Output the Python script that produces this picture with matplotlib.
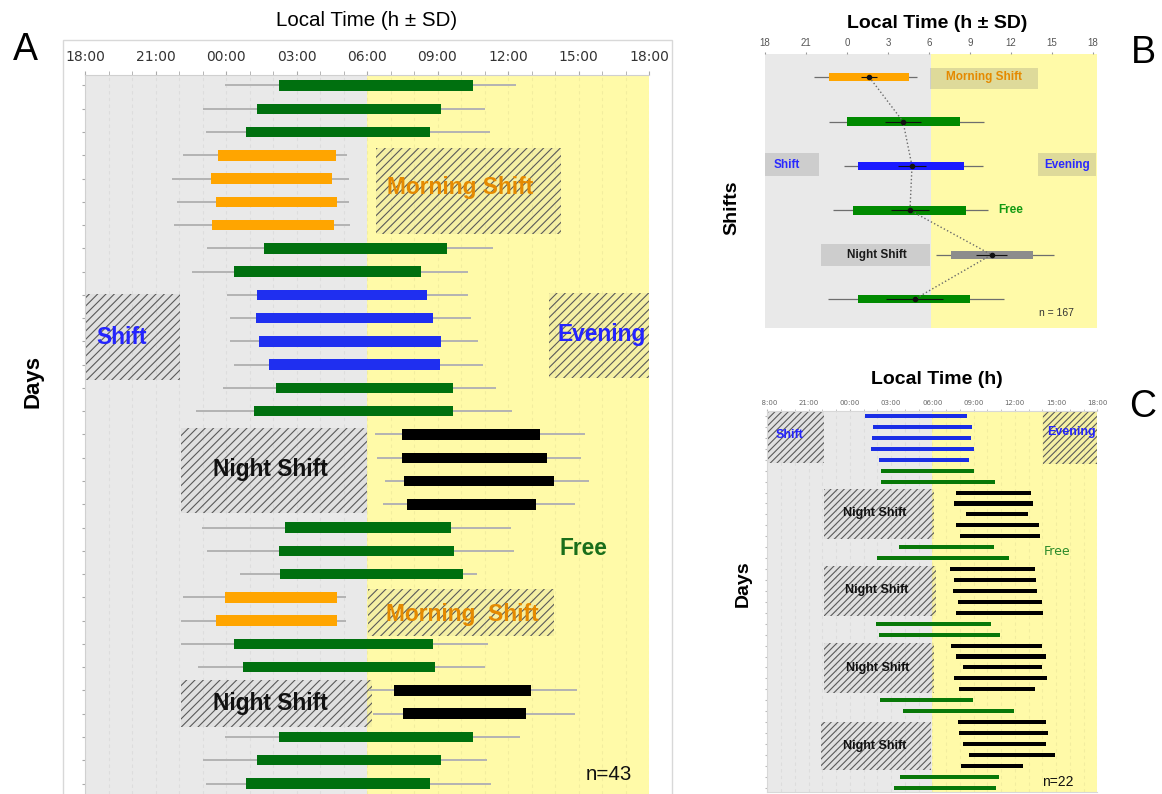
import numpy as np
import matplotlib
matplotlib.use("Agg")
import matplotlib.pyplot as plt
from matplotlib.patches import Rectangle
from matplotlib import font_manager
from matplotlib.transforms import Bbox, TransformedBbox

# ---------------- Panel A: single days (clock time of onset / offset, SD in h)
A_group = list("FFFMMMMFFEEEEFFNNNNFFFMMFFNNFFF")
A_onset = [2.27, 1.34, 0.86, 23.68, 23.37, 23.57, 23.41, 1.61, 0.34, 1.33, 1.29,
           1.40, 1.85, 2.11, 1.18, 7.47, 7.49, 7.58, 7.72, 2.49, 2.27, 2.31,
           23.95, 23.57, 0.34, 0.72, 7.13, 7.52, 2.27, 1.34, 0.86]
A_offset = [10.50, 9.13, 8.70, 4.66, 4.53, 4.73, 4.60, 9.39, 8.31, 8.56, 8.81,
            9.17, 9.10, 9.65, 9.65, 13.36, 13.65, 13.94, 13.20, 9.58, 9.71, 10.07,
            4.71, 4.71, 8.81, 8.90, 12.99, 12.77, 10.50, 9.13, 8.70]
A_onset_sd = [2.32, 2.34, 1.72, 1.52, 1.66, 1.65, 1.63, 2.40, 1.77, 1.29, 1.11,
              1.22, 1.49, 2.22, 2.47, 1.13, 1.08, 0.81, 1.02, 3.53, 3.08, 1.70,
              1.79, 1.47, 2.24, 1.90, 1.04, 1.27, 2.32, 2.34, 1.72]
A_offset_sd = [1.86, 1.88, 2.55, 0.50, 0.70, 0.50, 0.68, 1.97, 1.99, 1.74, 1.61,
               1.56, 1.83, 1.85, 2.53, 1.90, 1.47, 1.50, 1.63, 2.53, 2.54, 0.62,
               0.38, 0.38, 2.33, 2.10, 1.95, 2.10, 2.00, 1.97, 2.58]

# ---------------- Panel B: means per shift type
B_group = ["M", "F", "E", "F", "N", "F"]
B_onset = [22.67, 23.99, 0.82, 0.41, 7.62, 0.82]
B_offset = [4.56, 8.25, 8.55, 8.69, 13.61, 9.01]
B_onset_sd = [1.08, 1.32, 1.07, 1.45, 1.13, 2.20]
B_offset_sd = [0.54, 1.81, 1.39, 1.64, 1.56, 2.45]
B_mid = [1.63, 4.10, 4.76, 4.61, 10.58, 4.95]
B_mid_sd = [0.60, 1.35, 1.03, 1.39, 1.14, 2.08]

# ---------------- Panel C: single days of a night-shift worker
C_group = list("EEEEEFFNNNNNFFNNNNNFFNNNNNFFNNNNNFF")
C_onset = [1.07, 1.70, 1.58, 1.51, 2.12, 2.24, 2.26, 7.69, 7.55, 8.42, 7.74, 8.01,
           3.57, 1.97, 7.28, 7.59, 7.52, 7.84, 7.74, 1.92, 2.14, 7.33, 7.69, 8.20,
           7.59, 7.96, 2.21, 3.86, 7.89, 7.94, 8.25, 8.64, 8.10, 3.64, 3.21]
C_offset = [8.49, 8.90, 8.78, 9.03, 8.69, 9.03, 10.55, 13.15, 13.34, 12.98, 13.75,
            13.85, 10.48, 11.55, 13.44, 13.54, 13.59, 13.97, 14.07, 10.29, 10.92,
            13.95, 14.24, 13.97, 14.34, 13.49, 8.98, 11.91, 14.24, 14.43, 14.27,
            14.89, 12.59, 10.82, 10.65]

tick_hours = [18, 21, 24, 27, 30, 33, 36, 39, 42]
tick_labels_hm = ["18:00", "21:00", "00:00", "03:00", "06:00", "09:00",
                  "12:00", "15:00", "18:00"]
tick_labels_h = ["18", "21", "0", "3", "6", "9", "12", "15", "18"]

GRAY = "#e9e9e9"
YELLOW = "#fffaa8"
COL_A = {"F": "#00700f", "M": "#ffa500", "E": "#1f2ff0", "N": "#000000"}
COL_B = {"F": "#008a00", "M": "#ffa500", "E": "#1a1aff", "N": "#8c8c8c"}
COL_C = {"F": "#087808", "E": "#1a2ee6", "N": "#000000"}

names = {f.name for f in font_manager.fontManager.ttflist}
if "Liberation Sans Narrow" in names:
    NARROW, NS = "Liberation Sans Narrow", 1.0
else:
    NARROW, NS = "Liberation Sans", 0.82
SANS = "Liberation Sans"
plt.rcParams["font.family"] = [SANS, "DejaVu Sans"]
plt.rcParams["hatch.linewidth"] = 0.8


def unwrap(t):
    t = np.asarray(t, dtype=float)
    return np.where(t < 18, t + 24, t)


W, H = 1162, 794
fig = plt.figure(figsize=(W / 100, H / 100), dpi=100)


def fx(px):
    return px / W


def fy(py):
    return 1 - py / H


def background(ax, x0, split, x1):
    ax.axvspan(x0, split, color=GRAY, lw=0, zorder=0)
    ax.axvspan(split, x1, color=YELLOW, lw=0, zorder=0)
    for h in range(18, 43):
        ax.axvline(h, color="k", alpha=0.05, lw=0.8, ls=(0, (3, 3)), zorder=0.5)


def hatch_box(ax, x0, x1, y0, y1, pattern="////", face=(0.5, 0.5, 0.5, 0.08)):
    ax.add_patch(Rectangle((x0, y0), x1 - x0, y1 - y0, facecolor=face,
                           edgecolor="#5a5a5a", hatch=pattern, lw=0, zorder=1))


# ======================= Panel A
axA = fig.add_axes([fx(85), 0, fx(649) - fx(85), fy(75)])
background(axA, 18, 30, 42)
nA = len(A_group)
yA = np.arange(nA)
onA, offA = unwrap(A_onset), unwrap(A_offset)
axA.hlines(yA, onA - np.array(A_onset_sd), offA + np.array(A_offset_sd),
           color="#b3b3b3", lw=1.4, zorder=2)
axA.barh(yA, offA - onA, left=onA, height=0.45,
         color=[COL_A[g] for g in A_group], zorder=3)

hatch_box(axA, 30.38, 38.26, 2.7, 6.4)
hatch_box(axA, 18.0, 22.04, 8.95, 12.65)
hatch_box(axA, 37.74, 42.0, 8.92, 12.57)
hatch_box(axA, 22.07, 30.0, 14.72, 18.37)
hatch_box(axA, 30.04, 37.94, 21.64, 23.66)
hatch_box(axA, 22.07, 30.2, 25.55, 27.57)

ann = dict(family=NARROW, weight="bold", size=20 * NS, ha="center", va="center", zorder=4)
axA.text(33.96, 4.4, "Morning Shift", color="#e58a00", **ann)
axA.text(19.56, 10.85, "Shift", color="#2424ff", **ann)
axA.text(39.98, 10.72, "Evening", color="#2424ff", **ann)
axA.text(25.88, 16.52, "Night Shift", color="#111111", **ann)
axA.text(39.2, 19.88, "Free", color="#1a6e1a", **ann)
axA.text(34.07, 22.75, "Morning  Shift", color="#e58a00", **ann)
axA.text(25.88, 26.54, "Night Shift", color="#111111", **ann)
axA.text(40.3, 29.63, "n=43", family=NARROW, size=18 * NS, ha="center",
         va="center", color="#111111", zorder=4)

axA.set_xlim(18, 42)
axA.set_ylim(nA - 0.55, -0.45)
axA.xaxis.tick_top()
axA.set_xticks(tick_hours, tick_labels_hm)
axA.set_xticks(range(18, 43), minor=True)
axA.tick_params(axis="x", which="both", top=True, bottom=False, length=3,
                color="#aaaaaa", labelsize=10, labelcolor="#333333", pad=5)
for lab in axA.get_xticklabels():
    lab.set_family("DejaVu Sans")
axA.set_yticks(yA)
axA.tick_params(axis="y", length=2.5, color="#aaaaaa", labelleft=False)
for s in ["right", "bottom"]:
    axA.spines[s].set_visible(False)
for s in ["top", "left"]:
    axA.spines[s].set_color("#d0d0d0")
    axA.spines[s].set_linewidth(0.8)

fig.add_artist(Rectangle((fx(63), -0.01), fx(672) - fx(63), fy(40) + 0.01,
                         transform=fig.transFigure, fill=False,
                         edgecolor="#d8d8d8", lw=1))
fig.text(fx(367), fy(20), "Local Time (h ± SD)", family=NARROW, size=18 * NS,
         ha="center", va="center")
fig.text(fx(25), fy(50), "A", size=27, ha="center", va="center")
fig.text(fx(33), fy(382), "Days", size=16, weight="bold", rotation=90,
         ha="center", va="center")

# ======================= Panel B
axB = fig.add_axes([fx(765), fy(328), fx(1097) - fx(765), fy(54) - fy(328)])
axB.axvspan(18, 30.15, color=GRAY, lw=0, zorder=0)
axB.axvspan(30.15, 42.3, color=YELLOW, lw=0, zorder=0)
yB = np.arange(len(B_group))
onB, offB, midB = unwrap(B_onset), unwrap(B_offset), unwrap(B_mid)
boxB = (0.42, 0.42, 0.42, 0.22)
for (x0, x1, y0, y1) in [(30.07, 37.97, -0.21, 0.26), (18.0, 21.95, 1.71, 2.23),
                         (37.97, 42.2, 1.71, 2.23), (22.1, 30.07, 3.76, 4.25)]:
    axB.add_patch(Rectangle((x0, y0), x1 - x0, y1 - y0, facecolor=boxB, lw=0, zorder=1))
axB.hlines(yB, onB - np.array(B_onset_sd), offB + np.array(B_offset_sd),
           color="#6e6e6e", lw=0.9, zorder=2)
axB.barh(yB, offB - onB, left=onB, height=0.19,
         color=[COL_B[g] for g in B_group], zorder=3)
axB.plot(midB, yB, ls=":", color="#6a6a6a", lw=1.0, zorder=4)
axB.hlines(yB, midB - np.array(B_mid_sd), midB + np.array(B_mid_sd),
           color="#111111", lw=0.8, zorder=5)
axB.plot(midB, yB, "o", ms=3, color="#111111", zorder=6)

annB = dict(weight="bold", size=8.5, ha="center", va="center", zorder=7)
axB.text(34.02, 0, "Morning Shift", color="#e58a00", **annB)
axB.text(19.6, 1.98, "Shift", color="#2a2aff", **annB)
axB.text(40.1, 1.98, "Evening", color="#2a2aff", **annB)
axB.text(36.0, 3.0, "Free", color="#129a12", **annB)
axB.text(26.2, 4.0, "Night Shift", color="#1a1a1a", **annB)
axB.text(39.36, 5.31, "n = 167", size=7.5, color="#333333", ha="center",
         va="center", zorder=7)

axB.set_xlim(18, 42.3)
axB.set_ylim(5.65, -0.52)
axB.xaxis.tick_top()
axB.set_xticks(tick_hours, tick_labels_h)
axB.tick_params(axis="x", top=True, bottom=False, length=1.5, color="#999999",
                labelsize=7, labelcolor="#555555", pad=3)
axB.set_yticks([])
for s in axB.spines.values():
    s.set_visible(False)

fig.text(fx(937), fy(23), "Local Time (h ± SD)", size=14, weight="bold",
         ha="center", va="center")
fig.text(fx(732), fy(208), "Shifts", size=14, weight="bold", rotation=90,
         ha="center", va="center")
fig.text(fx(1143), fy(53), "B", size=27, ha="center", va="center")

# ======================= Panel C
axC = fig.add_axes([fx(767.4), fy(791.7), fx(1097.3) - fx(767.4), fy(410.7) - fy(791.7)])
background(axC, 18, 30, 42)
nC = len(C_group)
yC = np.arange(nC)
onC, offC = unwrap(C_onset), unwrap(C_offset)
axC.barh(yC, offC - onC, left=onC, height=0.37,
         color=[COL_C[g] for g in C_group], zorder=3)

hatch_box(axC, 18.0, 22.12, -0.46, 4.3, "/////")
hatch_box(axC, 38.05, 42.0, -0.46, 4.39, "/////")
hatch_box(axC, 22.12, 30.12, 6.68, 11.25, "/////")
hatch_box(axC, 22.12, 30.3, 13.72, 18.3, "/////")
hatch_box(axC, 22.12, 30.12, 20.77, 25.34, "/////")
hatch_box(axC, 21.9, 29.9, 28.0, 32.39, "/////")

annC = dict(weight="bold", size=9, ha="center", va="center", zorder=4)
axC.text(19.64, 1.74, "Shift", color="#2424ff", **annC)
axC.text(40.1, 1.46, "Evening", color="#2424ff", **annC)
axC.text(25.83, 8.87, "Night Shift", color="#111111", **annC)
axC.text(25.97, 15.92, "Night Shift", color="#111111", **annC)
axC.text(26.0, 23.06, "Night Shift", color="#111111", **annC)
axC.text(25.83, 30.2, "Night Shift", color="#111111", **annC)
axC.text(39.07, 12.35, "Free", color="#2a8a2a", size=9, family="DejaVu Sans",
         ha="center", va="center", zorder=4)
axC.text(39.14, 33.49, "n=22", color="#111111", size=10, ha="center",
         va="center", zorder=4)

axC.set_xlim(18, 42)
axC.set_ylim(nC - 0.63, -0.49)
axC.xaxis.tick_top()
axC.set_xticks(tick_hours, tick_labels_hm)
axC.set_xticks(range(18, 43), minor=True)
axC.tick_params(axis="x", which="both", top=True, bottom=False, length=1.5,
                color="#bbbbbb", labelsize=5, labelcolor="#666666", pad=2)
for lab in axC.get_xticklabels():
    lab.set_family("DejaVu Sans")
axC.set_yticks(yC)
axC.tick_params(axis="y", length=1.5, color="#bbbbbb", labelleft=False)
for s in ["right"]:
    axC.spines[s].set_visible(False)
for s in ["top", "left", "bottom"]:
    axC.spines[s].set_color("#d8d8d8")
    axC.spines[s].set_linewidth(0.8)
clip = TransformedBbox(Bbox.from_extents(fx(762), 0, 1, 1), fig.transFigure)
first = axC.xaxis.get_major_ticks()[0].label2
first.set_clip_on(True)
first.set_clip_box(clip)

fig.text(fx(937), fy(380), "Local Time (h)", size=14, weight="bold",
         ha="center", va="center")
fig.text(fx(743), fy(584), "Days", size=14, weight="bold", rotation=90,
         ha="center", va="center")
fig.text(fx(1143), fy(407), "C", size=27, ha="center", va="center")

fig.savefig("out.png", dpi=100)
